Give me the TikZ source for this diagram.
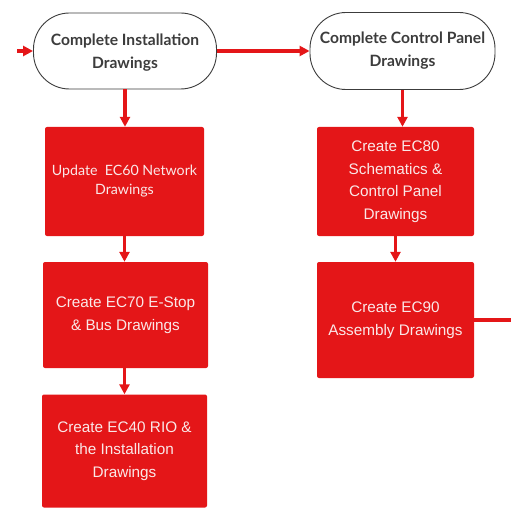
\documentclass[tikz,border=0pt]{standalone}
\usepackage{fontspec}
\setmainfont{Liberation Sans}
\newfontfamily\latofont{Lato}
\usetikzlibrary{arrows.meta}
\definecolor{ecred}{RGB}{228,22,24}
\definecolor{ecgray}{RGB}{60,60,60}
\definecolor{ectext}{RGB}{250,232,232}
\begin{document}
\begin{tikzpicture}[x=1pt,y=-1pt,
  term/.style={draw=ecgray,line width=0.9pt,fill=white,rounded corners=36pt,
    align=center,text=ecgray,font=\latofont\bfseries\fontsize{15.6}{23}\selectfont,inner sep=0pt},
  redbox/.style={fill=ecred,rounded corners=2pt,align=center,text=ectext,inner sep=0pt,
    font=\fontsize{15.3}{22.5}\selectfont},
  flow/.style={draw=ecred,line width=3.2pt,-{Triangle[length=10pt,width=10pt]}},
  plain/.style={draw=ecred,line width=3.2pt}]
\useasboundingbox (0,0) rectangle (511,508);
\node[term,minimum width=183pt,minimum height=76pt,text depth=0pt] (t1) at (125,51) {Complete Installation\\Drawings};
\node[term,minimum width=185pt,minimum height=77pt] (t2) at (402.5,51) {Complete Control Panel\\Drawings};
\node[redbox,minimum width=159pt,minimum height=109pt,font=\latofont\fontsize{14.2}{19}\selectfont] (b1) at (124.5,181.5) {Update~ EC60 Network\\Drawings};
\node[redbox,minimum width=165pt,minimum height=106pt] (b2) at (125.5,315) {Create EC70 E-Stop\\\& Bus Drawings};
\node[redbox,minimum width=165pt,minimum height=113pt] (b3) at (124.5,451) {Create EC40 RIO \&\\the Installation\\Drawings};
\node[redbox,minimum width=157pt,minimum height=109pt] (b4) at (395.5,181.5) {Create EC80\\Schematics \&\\Control Panel\\Drawings};
\node[redbox,minimum width=157pt,minimum height=116pt] (b5) at (395.5,320) {Create EC90\\Assembly Drawings};
\coordinate (in) at (17,51);
\coordinate (out) at (511,320);
\draw[flow] (in) -- (t1.west);
\draw[flow] (t1.east) -- (t2.west);
\draw[flow] (t1.south) -- (t1.south |- b1.north);
\draw[flow] (t2.south) -- (t2.south |- b4.north);
\draw[flow] (b1.south) -- (b1.south |- b2.north);
\draw[flow] (b1.south |- b2.south) -- (b1.south |- b3.north);
\draw[flow] (b4.south) -- (b5.north);
\draw[plain] (b5.east) -- (out);
\end{tikzpicture}
\end{document}
